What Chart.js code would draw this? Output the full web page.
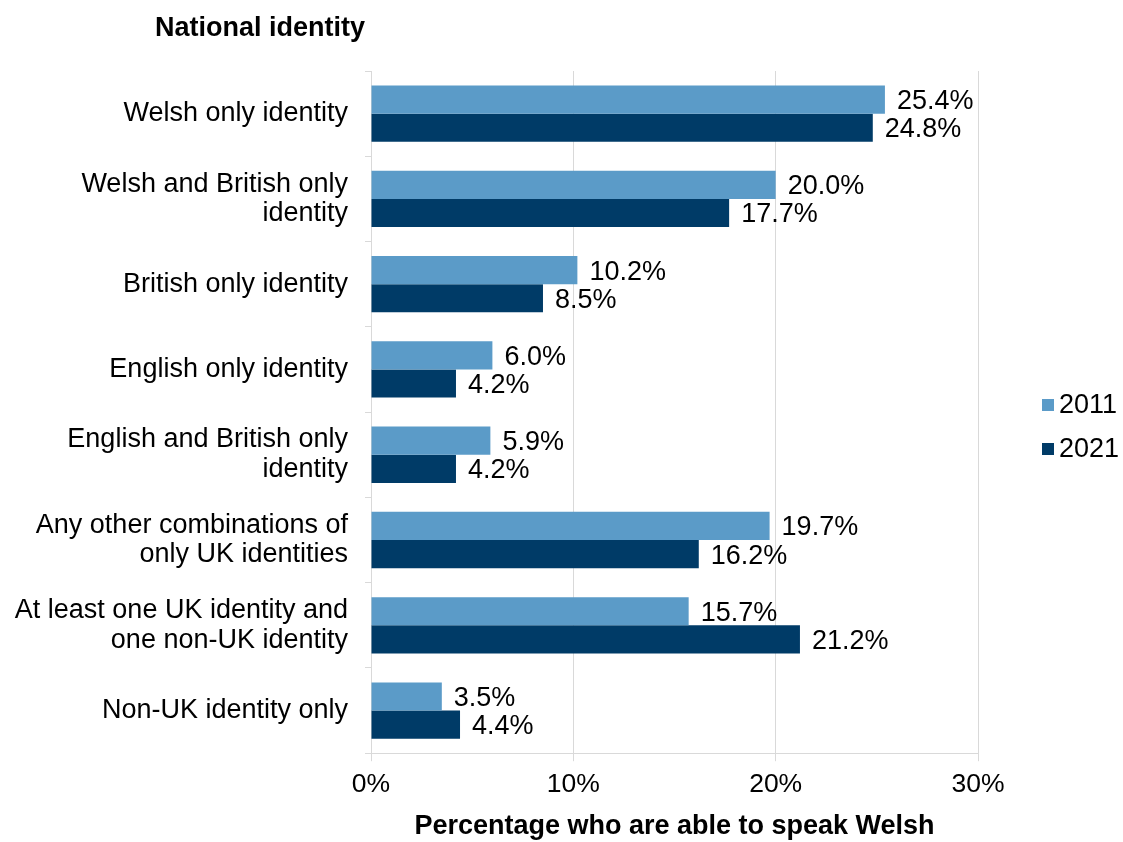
<!DOCTYPE html>
<html>
<head>
<meta charset="utf-8">
<script src="https://cdn.jsdelivr.net/npm/chart.js@4.4.1/dist/chart.umd.min.js"></script>
<style>
  html, body { margin: 0; padding: 0; background: #ffffff; }
  #wrap { width: 1123px; height: 842px; }
</style>
</head>
<body>
<div id="wrap"><canvas id="chart" width="1123" height="842"></canvas></div>
<script>
// National identity groups (multi-line labels as arrays)
const categories = [
  ['Welsh only identity'],
  ['Welsh and British only', 'identity'],
  ['British only identity'],
  ['English only identity'],
  ['English and British only', 'identity'],
  ['Any other combinations of', 'only UK identities'],
  ['At least one UK identity and', 'one non-UK identity'],
  ['Non-UK identity only']
];

// Percentage able to speak Welsh
const values2011 = [25.4, 20.0, 10.2, 6.0, 5.9, 19.7, 15.7, 3.5];
const values2021 = [24.8, 17.7, 8.5, 4.2, 4.2, 16.2, 21.2, 4.4];

const seriesNames = ['2011', '2021'];
const xTicks = [0, 10, 20, 30];

const FONT = '"Liberation Sans", Arial, sans-serif';
const FS = 27;        // labels and titles
const FS_TICK = 26.5; // x-axis tick labels
const colLight = '#5b9bc8';
const colDark = '#003b67';

// Heading above the category labels
const heading = {
  id: 'heading',
  afterDraw(chart) {
    const ctx = chart.ctx;
    ctx.save();
    ctx.font = 'bold ' + FS + 'px ' + FONT;
    ctx.fillStyle = '#000000';
    ctx.textAlign = 'left';
    ctx.textBaseline = 'middle';
    ctx.fillText('National identity', 155, 29);
    ctx.restore();
  }
};

// Value labels to the right of each bar
const valueLabels = {
  id: 'valueLabels',
  afterDatasetsDraw(chart) {
    const ctx = chart.ctx;
    ctx.save();
    ctx.font = FS + 'px ' + FONT;
    ctx.fillStyle = '#000000';
    ctx.textAlign = 'left';
    ctx.textBaseline = 'middle';
    chart.data.datasets.forEach((ds, di) => {
      const meta = chart.getDatasetMeta(di);
      meta.data.forEach((bar, i) => {
        ctx.fillText(ds.data[i].toFixed(1) + '%', bar.x + 12, bar.y + 2);
      });
    });
    ctx.restore();
  }
};

// Legend at the right of the plot
const sideLegend = {
  id: 'sideLegend',
  afterDraw(chart) {
    const ctx = chart.ctx;
    ctx.save();
    ctx.font = FS + 'px ' + FONT;
    ctx.textBaseline = 'middle';
    ctx.textAlign = 'left';
    const x = 1042, y0 = 405, gap = 44;
    chart.data.datasets.forEach((ds, i) => {
      const y = y0 + i * gap;
      ctx.fillStyle = ds.backgroundColor;
      ctx.fillRect(x, y - 6, 12, 12);
      ctx.fillStyle = '#000000';
      ctx.fillText(ds.label, x + 17, y + 1);
    });
    ctx.restore();
  }
};

new Chart(document.getElementById('chart'), {
  type: 'bar',
  data: {
    labels: categories,
    datasets: [
      { label: seriesNames[0], data: values2011, backgroundColor: colLight },
      { label: seriesNames[1], data: values2021, backgroundColor: colDark }
    ]
  },
  options: {
    indexAxis: 'y',
    responsive: false,
    animation: false,
    devicePixelRatio: 1,
    layout: { padding: { top: 71, right: 145, bottom: 2, left: 0 } },
    datasets: { bar: { categoryPercentage: 0.66, barPercentage: 1.0 } },
    plugins: {
      legend: { display: false },
      tooltip: { enabled: false },
      title: { display: false }
    },
    scales: {
      x: {
        min: 0,
        max: 30,
        afterBuildTicks(scale) {
          scale.ticks = xTicks.map(v => ({ value: v }));
        },
        ticks: {
          color: '#000000',
          font: { family: FONT, size: FS_TICK, lineHeight: 1.2 },
          padding: 8,
          callback: v => v + '%'
        },
        grid: { color: '#d9d9d9', lineWidth: 1, tickLength: 8 },
        border: { color: '#d9d9d9' },
        title: {
          display: true,
          text: 'Percentage who are able to speak Welsh',
          color: '#000000',
          font: { family: FONT, size: FS, weight: 'bold', lineHeight: 1.0 },
          padding: { top: 4, bottom: 0 }
        }
      },
      y: {
        afterFit(scale) { scale.width = 371; },
        ticks: {
          color: '#000000',
          font: { family: FONT, size: FS, lineHeight: 1.1 },
          padding: 17
        },
        grid: { display: true, drawOnChartArea: false, color: '#d9d9d9', tickLength: 6, offset: true },
        border: { color: '#d9d9d9' }
      }
    }
  },
  plugins: [valueLabels, sideLegend, heading]
});
</script>
</body>
</html>
